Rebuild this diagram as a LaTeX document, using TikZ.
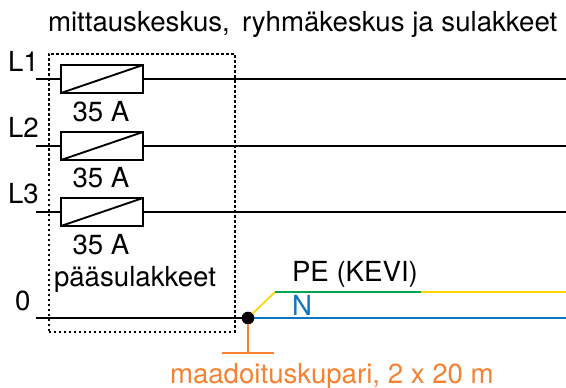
\documentclass[tikz,border=0pt]{standalone}
\usepackage{fontspec}
\setmainfont{TeX Gyre Heros}
\definecolor{cgreen}{HTML}{00A650}
\definecolor{cyellow}{HTML}{FFD500}
\definecolor{cblue}{HTML}{0F75BC}
\definecolor{corange}{HTML}{F58233}
\tikzset{
  lbl/.style={anchor=base west,inner sep=0pt,outer sep=0pt,font=\fontsize{20.8pt}{24pt}\selectfont},
  lblc/.style={anchor=base,inner sep=0pt,outer sep=0pt,font=\fontsize{20.8pt}{24pt}\selectfont},
  fuse/.style={draw=black,line width=1.6bp,fill=white,minimum width=61.5bp,minimum height=21bp,inner sep=0pt,outer sep=0pt},
  wire/.style={line width=1.3bp},
  colwire/.style={line width=1.3bp},
}
\begin{document}
\begin{tikzpicture}[x=0.75bp,y=-0.75bp]
\useasboundingbox (0,0) rectangle (566,388);
\fill[white] (0,0) rectangle (566,388);
% coordinates
\coordinate (L1w) at (36,79);   \coordinate (L1e) at (566,79);
\coordinate (L2w) at (36,146);\coordinate (L2e) at (566,146);
\coordinate (L3w) at (36,212);  \coordinate (L3e) at (566,212);
\coordinate (Zw) at (36,318);
\coordinate (Ne) at (566,318);
\coordinate (PEa) at (275,292);
\coordinate (PEb) at (421,292);
\coordinate (PEe) at (566,292);
\coordinate (Gnd) at (248,353);
\coordinate (GndL) at (222,353);
\coordinate (GndR) at (274,353);
% dotted box
\node[draw,line width=1.5bp,dash pattern=on 1.8bp off 1.95bp,minimum width=139.5bp,minimum height=208.5bp,inner sep=0pt] (box) at (141.75,192.5) {};
% wires
\draw[wire] (L1w) -- (L1e);
\draw[wire] (L2w) -- (L2e);
\draw[wire] (L3w) -- (L3e);
% fuses
\node[fuse] (f1) at (102,79) {};
\node[fuse] (f2) at (102,146) {};
\node[fuse] (f3) at (102,212) {};
\foreach \f in {f1,f2,f3} \draw[line width=1.4bp] (\f.south west) -- (\f.north east);
% junction
\node[circle,fill=black,minimum size=9.5bp,inner sep=0pt,outer sep=0pt] (J) at (248,318) {};
\draw[wire] (Zw) -- (J);
\draw[colwire,cblue] (J) -- (Ne);
\draw[colwire,cyellow] (J) -- (PEa);
\draw[colwire,cgreen] (PEa) -- (PEb);
\draw[colwire,cyellow] (PEb) -- (PEe);
\draw[colwire,corange] (J) -- (Gnd);
\draw[colwire,corange] (GndL) -- (GndR);
% labels
\node[lbl] (title1) at (48,31) {mittauskeskus,};
\node[lbl] (title2) at (242,31) {ryhmäkeskus ja sulakkeet};
\node[lbl] (tL1) at (8,71) {L1};
\node[lbl] (tL2) at (8,137) {L2};
\node[lbl] (tL3) at (8,203) {L3};
\node[lbl] (t0) at (15,310) {0};
\node[lblc] (a1) at (101,121) {35 A};
\node[lblc] (a2) at (101,187) {35 A};
\node[lblc] (a3) at (101,254) {35 A};
\node[lblc] (pa) at (135,286) {pääsulakkeet};
\node[lbl] (pe) at (292,281) {PE (KEVI)};
\node[lbl,text=cblue] (n) at (292,315) {N};
\node[lbl,text=corange] (ma) at (170,383) {maadoituskupari, 2 x 20 m};
\end{tikzpicture}
\end{document}
